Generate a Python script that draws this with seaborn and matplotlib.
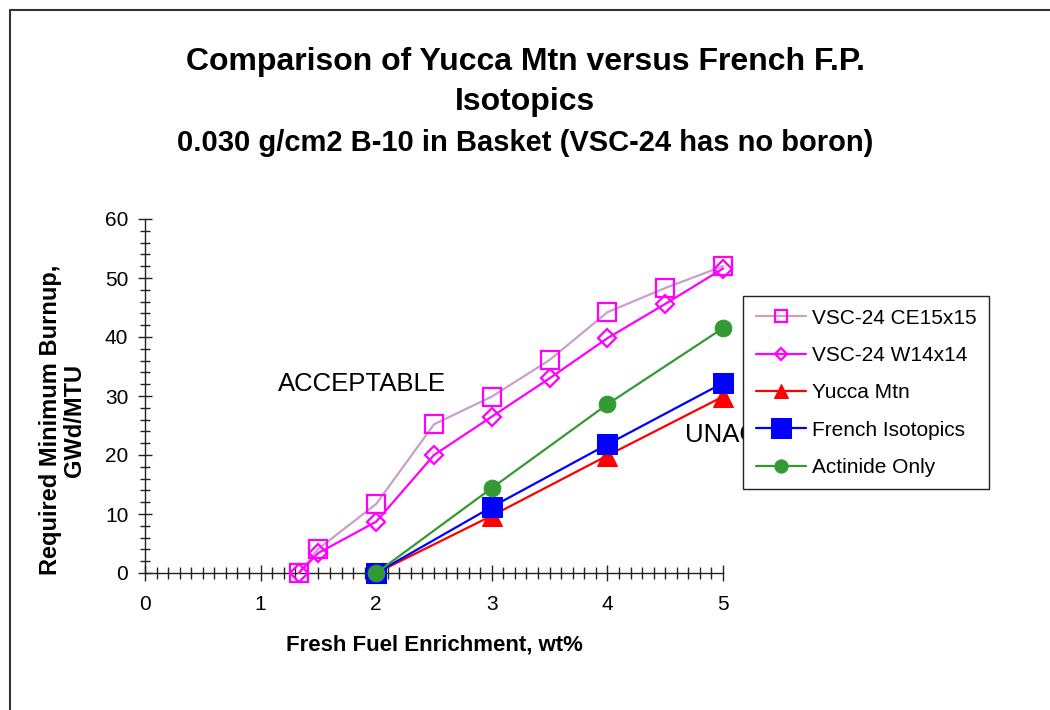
import matplotlib
matplotlib.use("Agg")
import matplotlib.pyplot as plt
from matplotlib.patches import Rectangle
from matplotlib.ticker import MultipleLocator
import seaborn as sns

sns.set_theme(style="white")
plt.rcParams['font.family'] = ['Liberation Sans', 'DejaVu Sans']
plt.rcParams['text.color'] = 'black'
plt.rcParams['axes.labelcolor'] = 'black'
plt.rcParams['xtick.color'] = 'black'
plt.rcParams['ytick.color'] = 'black'

# Data
ce_x = [1.33, 1.5, 2.0, 2.5, 3.0, 3.5, 4.0, 4.5, 5.0]
ce_y = [0.0, 4.1, 11.7, 25.2, 29.9, 36.1, 44.2, 48.3, 52.0]
w_x = [1.33, 1.5, 2.0, 2.5, 3.0, 3.5, 4.0, 4.5, 5.0]
w_y = [0.0, 3.4, 8.7, 20.0, 26.5, 33.0, 39.8, 45.6, 51.6]
yucca_x = [2.0, 3.0, 4.0, 5.0]
yucca_y = [0.0, 9.7, 19.9, 29.9]
french_x = [2.0, 3.0, 4.0, 5.0]
french_y = [0.0, 11.2, 21.8, 32.2]
act_x = [2.0, 3.0, 4.0, 5.0]
act_y = [0.0, 14.4, 28.6, 41.5]

labels = ["VSC-24 CE15x15", "VSC-24 W14x14", "Yucca Mtn", "French Isotopics", "Actinide Only"]

fig = plt.figure(figsize=(10.5, 7.1), dpi=100)
ax = fig.add_axes([145/1050, 1-573/710, (723-145)/1050, (573-219)/710])

common = dict(ax=ax, estimator=None, sort=False, clip_on=False, zorder=3)
sns.lineplot(x=ce_x, y=ce_y, color="#C8A0C8", lw=1.6, marker="s", markersize=13.5,
             markerfacecolor="none", markeredgecolor="#FF00FF", markeredgewidth=1.6,
             label=labels[0], **common)
sns.lineplot(x=w_x, y=w_y, color="#FF00FF", lw=1.6, marker="D", markersize=9,
             markerfacecolor="none", markeredgecolor="#FF00FF", markeredgewidth=1.6,
             label=labels[1], **common)
sns.lineplot(x=yucca_x, y=yucca_y, color="#FF0000", lw=1.6, marker="^", markersize=14,
             markerfacecolor="#FF0000", markeredgecolor="#FF0000",
             label=labels[2], **common)
sns.lineplot(x=french_x, y=french_y, color="#0000FF", lw=1.6, marker="s", markersize=15,
             markerfacecolor="#0000FF", markeredgecolor="#0000FF",
             label=labels[3], **common)
sns.lineplot(x=act_x, y=act_y, color="#339933", lw=1.6, marker="o", markersize=12,
             markerfacecolor="#339933", markeredgecolor="#339933",
             label=labels[4], **common)

ax.set_xlim(0, 5)
ax.set_ylim(0, 60)
ax.set_facecolor("none")
for s in ["top", "right"]:
    ax.spines[s].set_visible(False)
for s in ["left", "bottom"]:
    ax.spines[s].set_color("#222222")
    ax.spines[s].set_linewidth(1.0)

ax.xaxis.set_major_locator(MultipleLocator(1))
ax.xaxis.set_minor_locator(MultipleLocator(0.1))
ax.yaxis.set_major_locator(MultipleLocator(10))
ax.yaxis.set_minor_locator(MultipleLocator(2))
ax.tick_params(axis="x", which="major", direction="inout", length=12, width=1, pad=10,
               labelsize=15, bottom=True, color="#222222")
ax.tick_params(axis="x", which="minor", direction="inout", length=9, width=1, bottom=True, color="#222222")
ax.tick_params(axis="y", which="major", direction="inout", length=10, width=1, pad=7,
               labelsize=15, left=True, color="#222222")
ax.tick_params(axis="y", which="minor", direction="inout", length=7, width=1, left=True, color="#222222")

ax.set_xlabel("Fresh Fuel Enrichment, wt%", fontsize=16, fontweight="bold")
ax.set_ylabel("Required Minimum Burnup,\nGWd/MTU", fontsize=17, fontweight="bold",
              linespacing=1.05)
ax.xaxis.set_label_coords(0.5, -(634 - 573) / 354)
ax.yaxis.set_label_coords((86 - 145) / 578, (573 - 420) / 354)

ax.text(1.15, 32, "ACCEPTABLE", fontsize=18.5, ha="left", va="center")
unac = ax.text(4.67, 23.4, "UNACCEPTABLE", fontsize=18.5, ha="left", va="center", zorder=1)
clip_rect = Rectangle((0, 0), 743, 710, transform=None)
unac.set_clip_path(clip_rect)

leg = ax.legend(loc="upper left", bbox_to_anchor=(743/1050, 1-296/710),
                bbox_transform=fig.transFigure, fontsize=15, frameon=True, fancybox=False,
                edgecolor="#222222", framealpha=1, borderaxespad=0, handlelength=2.4,
                handletextpad=0.3, labelspacing=0.88, borderpad=0.6)
leg.get_frame().set_linewidth(1.0)
leg.set_zorder(5)
sizes = [8, 6, 10, 14, 9.5]
for h, s in zip(leg.legend_handles, sizes):
    h.set_markersize(s)

fig.text(0.5, 1-62/710, "Comparison of Yucca Mtn versus French F.P.", ha="center", va="center",
         fontsize=23, fontweight="bold")
fig.text(0.5, 1-102/710, "Isotopics", ha="center", va="center", fontsize=23, fontweight="bold")
fig.text(0.5, 1-143/710, "0.030 g/cm2 B-10 in Basket (VSC-24 has no boron)", ha="center",
         va="center", fontsize=21, fontweight="bold")

fig.patches.append(Rectangle((10/1050, -0.1), 1.2, 1-10/710 + 0.1, transform=fig.transFigure,
                             fill=False, edgecolor="#333333", linewidth=1.5))

fig.savefig("out.png", dpi=100)
